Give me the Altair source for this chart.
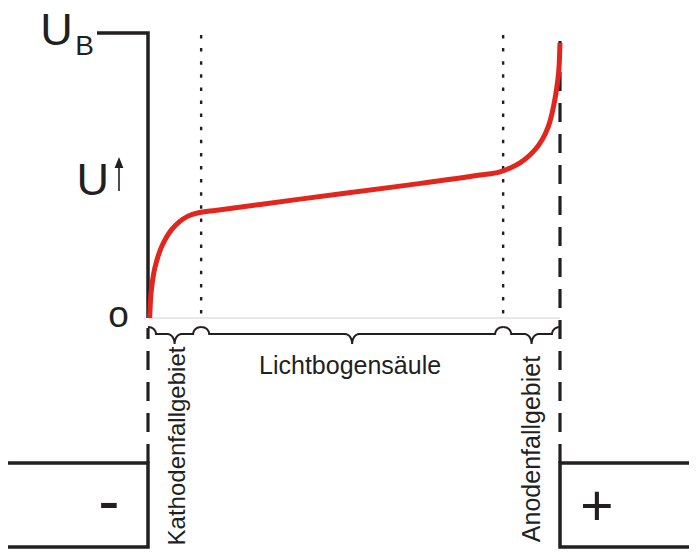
import altair as alt
import pandas as pd
import numpy as np

# ---------------- data (x: position cathode=0 .. anode=100, U: voltage 0 .. U_B=100) ----------------
pos  = [0.4, 0.61, 0.97, 1.46, 2.18, 3.16, 4.37, 5.83, 7.52, 9.71, 12.6, 16.3,
        36.9, 61.2, 80.6, 85.4, 87.9, 90.3, 92.7, 94.7, 96.4, 97.6, 98.5, 99.3, 99.8, 100]
volt = [0, 6.4, 11.7, 16.3, 20.5, 24.7, 28.3, 31.4, 33.9, 36.0, 37.3, 38.0,
        42.0, 46.6, 50.5, 51.6, 53.0, 54.8, 57.6, 60.8, 65.0, 69.6, 75.3, 82.3, 89.4, 97.2]
bounds = [0, 12.9, 86.2, 100]
regions = ["Kathodenfallgebiet", "Lichtbogensäule", "Anodenfallgebiet"]
U_B = 100

# ---------------- geometry helpers ----------------
W, H = 681, 542
KX, KY = 4.12, 2.83          # px per unit
OX, OY = 140, 310            # chart px of origin
X_DOM = [-OX / KX, (W - OX) / KX]
Y_DOM = [(OY - H) / KY, OY / KY]

def ux(px):
    return (px - 8 - OX) / KX

def uy(py):
    return (OY - (py - 8)) / KY

XS = alt.Scale(domain=X_DOM, nice=False, zero=False)
YS = alt.Scale(domain=Y_DOM, nice=False, zero=False)
INK = "#231f20"
FONT = "Liberation Sans"

def X(f="x"):
    return alt.X(f"{f}:Q", scale=XS, axis=None)

def Y(f="y"):
    return alt.Y(f"{f}:Q", scale=YS, axis=None)

# ---------------- curve ----------------
curve_df = pd.DataFrame({"x": pos, "y": volt})
curve = alt.Chart(curve_df).mark_line(color="#e2261d", strokeWidth=5, interpolate="monotone",
                                      strokeCap="butt").encode(x=X(), y=Y())

# ---------------- solid black polylines (axis, electrodes) ----------------
ytop_box, ybot_box = uy(463), uy(547)
solid_pts = [
    ("axis", [(ux(97), U_B + 0.7), (0, U_B + 0.7), (0, 0)]),
    ("cath", [(ux(0), ytop_box), (0, ytop_box), (0, ybot_box), (ux(0), ybot_box)]),
    ("anod", [(ux(720), ytop_box), (100, ytop_box), (100, ybot_box), (ux(720), ybot_box)]),
]
rows = []
for g, pts in solid_pts:
    for i, (a, b) in enumerate(pts):
        rows.append({"g": g, "o": i, "x": a, "y": b})
solid = alt.Chart(pd.DataFrame(rows)).mark_line(color=INK, strokeWidth=3.5, strokeJoin="miter",
                                                clip=True).encode(
    x=X(), y=Y(), detail="g:N", order="o:Q")

# ---------------- dashed electrode lines ----------------
dash_rows = [
    {"g": "c", "o": 0, "x": 0, "y": ytop_box}, {"g": "c", "o": 1, "x": 0, "y": uy(328)},
    {"g": "a", "o": 0, "x": 100, "y": ytop_box}, {"g": "a", "o": 1, "x": 100, "y": U_B},
]
dashed = alt.Chart(pd.DataFrame(dash_rows)).mark_line(color=INK, strokeWidth=3.2,
                                                      strokeDash=[19, 12]).encode(
    x=X(), y=Y(), detail="g:N", order="o:Q")

# ---------------- dotted region boundaries ----------------
dot_df = pd.DataFrame({"x": bounds[1:3], "y": [U_B, U_B], "y2": [uy(322)] * 2})
dotted = alt.Chart(dot_df).mark_rule(color=INK, strokeWidth=2.4, strokeDash=[3.5, 9.6]).encode(
    x=X(), y=Y(), y2="y2:Q")

# ---------------- baseline ----------------
base_df = pd.DataFrame({"x": [0], "x2": [100], "y": [0]})
baseline = alt.Chart(base_df).mark_rule(color="#d0d0d0", strokeWidth=1).encode(
    x=X(), x2="x2:Q", y=Y())

# ---------------- braces ----------------
brows = []
yt, yb, yp = 327, 334, 344
for k in range(3):
    a = 148 + bounds[k] * KX
    b = 148 + bounds[k + 1] * KX
    c = (a + b) / 2
    re_, rt = 8, 7
    t = np.linspace(0, np.pi / 2, 9)
    pts = []
    pts += [(a + re_ * np.sin(s), yt + (yb - yt) * (1 - np.cos(s))) for s in t]
    pts += [(c - rt + rt * np.sin(s), yb + (yp - yb) * (1 - np.cos(s))) for s in t]
    pts += [(c + rt - rt * np.sin(s), yb + (yp - yb) * (1 - np.cos(s))) for s in t[::-1]]
    pts += [(b - re_ * np.sin(s), yt + (yb - yt) * (1 - np.cos(s))) for s in t[::-1]]
    for i, (px, py) in enumerate(pts):
        brows.append({"g": k, "o": i, "x": (px - 148) / KX, "y": uy(py)})
braces = alt.Chart(pd.DataFrame(brows)).mark_line(color=INK, strokeWidth=2).encode(
    x=X(), y=Y(), detail="g:N", order="o:Q")

# ---------------- arrow next to U ----------------
arrow_shaft = alt.Chart(pd.DataFrame({"x": [ux(119)], "y": [uy(166)], "y2": [uy(191)]})).mark_rule(
    color=INK, strokeWidth=1.6).encode(x=X(), y=Y(), y2="y2:Q")
arrow_head = alt.Chart(pd.DataFrame({"x": [ux(119)], "y": [uy(162.5)]})).mark_point(
    shape="M0,-1L-0.8,1L0.8,1Z", size=121, filled=True, color=INK, opacity=1).encode(x=X(), y=Y())

# ---------------- texts ----------------
txt = pd.DataFrame([
    {"t": "U", "x": ux(56.5), "y": uy(45), "fs": 45},
    {"t": "B", "x": ux(84.5), "y": uy(55), "fs": 28},
    {"t": "U", "x": ux(92.8), "y": uy(195), "fs": 45},
    {"t": "o", "x": ux(118.5), "y": uy(327), "fs": 37},
    {"t": regions[1], "x": (bounds[1] + bounds[2]) / 2 - 0.5, "y": uy(374), "fs": 25},
    {"t": "-", "x": ux(109), "y": uy(523), "fs": 64},
    {"t": "+", "x": ux(597), "y": uy(525), "fs": 57},
])
texts = alt.Chart(txt).mark_text(font=FONT, align="center", baseline="alphabetic", color=INK).encode(
    x=X(), y=Y(), text="t:N", size=alt.Size("fs:Q", scale=None))

rot = pd.DataFrame([
    {"t": regions[0], "x": ux(185), "y": uy(446), "fs": 24},
    {"t": regions[2], "x": ux(540), "y": uy(449), "fs": 25},
])
rtexts = alt.Chart(rot).mark_text(font=FONT, angle=270, align="center",
                                  baseline="alphabetic", color=INK).encode(
    x=X(), y=Y(), text="t:N", size=alt.Size("fs:Q", scale=None))

chart = alt.layer(
    baseline, dotted, dashed, solid, braces, curve, arrow_shaft, arrow_head, texts, rtexts
).properties(
    width=W, height=H, padding=0, autosize=alt.AutoSizeParams(type="none"), background="white"
).configure_view(stroke=None)

chart.save("out.html", embed_options={"renderer": "svg", "actions": False})
